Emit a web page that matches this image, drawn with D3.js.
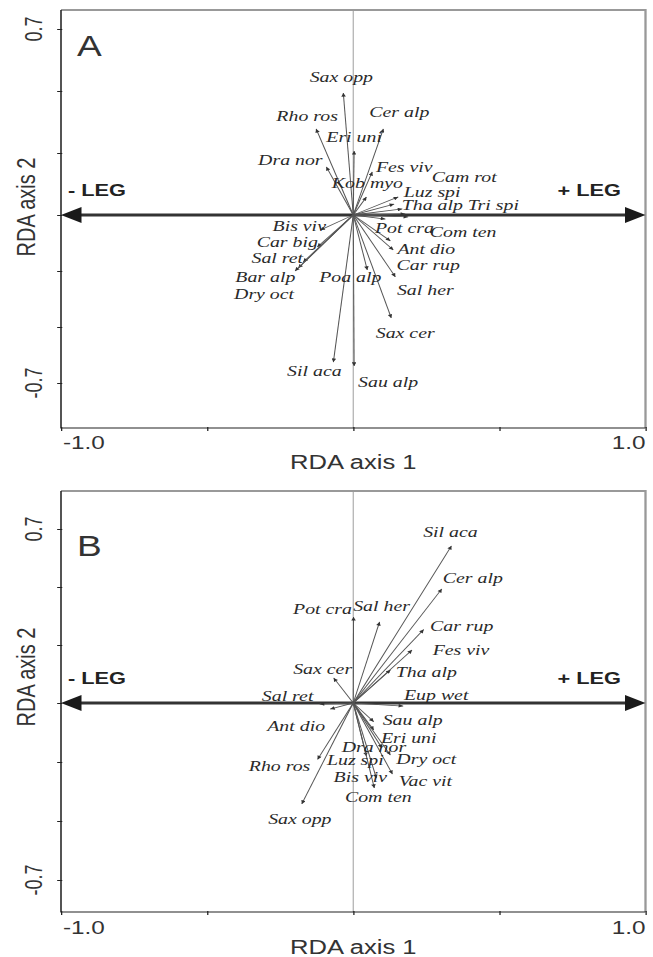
<!DOCTYPE html>
<html>
<head>
<meta charset="utf-8">
<script src="https://cdn.jsdelivr.net/npm/d3@7"></script>
<style>
  html, body { margin: 0; padding: 0; background: #fff; }
  .sans { font-family: "Liberation Sans", Arial, sans-serif; fill: #333; }
  .sp-label { font-family: "Liberation Serif", "Times New Roman", serif; font-style: italic; font-size: 15.5px; fill: #2a2a2a; }
</style>
</head>
<body>
<div id="chart"></div>
<script>
// Panel A species scores
const speciesA = ["Sax opp", "Rho ros", "Eri uni", "Cer alp", "Dra nor", "Fes viv", "Kob myo", "Cam rot", "Luz spi", "Tha alp", "Tri spi", "Com ten", "Pot cra", "Ant dio", "Car rup", "Sal her", "Sax cer", "Poa alp", "Sil aca", "Sau alp", "Bis viv", "Car big", "Sal ret", "Bar alp", "Dry oct"];
const axis1A = [-0.034, -0.127, 0.003, 0.103, -0.092, 0.065, 0.045, 0.154, 0.140, 0.168, 0.178, 0.188, 0.110, 0.127, 0.137, 0.144, 0.130, 0.048, -0.068, 0.003, -0.113, -0.123, -0.171, -0.188, -0.199];
const axis2A = [0.459, 0.324, 0.241, 0.324, 0.181, 0.162, 0.068, 0.068, 0.041, 0.023, 0.004, -0.008, -0.017, -0.108, -0.146, -0.258, -0.429, -0.229, -0.613, -0.629, -0.063, -0.133, -0.196, -0.221, -0.233];

// Panel B species scores
const speciesB = ["Sil aca", "Cer alp", "Pot cra", "Sal her", "Car rup", "Fes viv", "Tha alp", "Sax cer", "Eup wet", "Sal ret", "Ant dio", "Sau alp", "Eri uni", "Dra nor", "Dry oct", "Vac vit", "Luz spi", "Bis viv", "Com ten", "Rho ros", "Sax opp"];
const axis1B = [0.336, 0.303, 0.001, 0.090, 0.241, 0.201, 0.127, -0.067, 0.171, -0.115, -0.079, 0.070, 0.070, 0.098, 0.127, 0.134, 0.045, 0.079, 0.072, -0.122, -0.176];
const axis2B = [0.632, 0.459, 0.346, 0.326, 0.296, 0.213, 0.133, 0.101, -0.012, -0.004, -0.024, -0.074, -0.107, -0.178, -0.206, -0.281, -0.210, -0.297, -0.336, -0.223, -0.399];

// Ticks
const xTicks = [-1, -0.5, 0, 0.5, 1];
const yTicks = [-0.7, -0.7 * 2 / 3, -0.7 / 3, 0, 0.7 / 3, 0.7 * 2 / 3, 0.7];
const xTickLabels = [[-1, "-1.0"], [1, "1.0"]];
const yTickLabels = [[0.7, "0.7"], [-0.7, "-0.7"]];
const legLabels = ["- LEG", "+ LEG"];
const xTitle = "RDA axis 1";
const yTitle = "RDA axis 2";

// Label nudges from arrow tip (picture px)
const nudgeA = {
  "Sax opp": [-2, -11], "Rho ros": [-9, -8], "Eri uni": [0, -9], "Cer alp": [16, -12],
  "Dra nor": [-36, -2], "Fes viv": [32, 0], "Kob myo": [1, -9], "Cam rot": [66, -15],
  "Luz spi": [38, -7], "Tha alp": [30, 1], "Tri spi": [88, -4], "Com ten": [55, 20],
  "Pot cra": [19, 14], "Ant dio": [36, 13], "Car rup": [35, 20], "Sal her": [30, 18],
  "Sax cer": [14, 20], "Poa alp": [-17, 12], "Sil aca": [-19, 14], "Sau alp": [34, 21],
  "Bis viv": [-21, 1], "Car big": [-30, 0], "Sal ret": [-26, 1], "Bar alp": [-33, 14],
  "Dry oct": [-31, 28]
};
const nudgeB = {
  "Sil aca": [-1, -9], "Cer alp": [31, -6], "Pot cra": [-31, -3], "Sal her": [2, -11],
  "Car rup": [38, 2], "Fes viv": [49, 5], "Tha alp": [36, 7], "Sax cer": [-11, -4],
  "Eup wet": [33, -6], "Sal ret": [-32, -3], "Ant dio": [-34, 22], "Sau alp": [39, 3],
  "Eri uni": [35, 13], "Dra nor": [-8, 4], "Dry oct": [36, 9], "Vac vit": [33, 12],
  "Luz spi": [-11, 9], "Bis viv": [-16, 4], "Com ten": [4, 14], "Rho ros": [-38, 12],
  "Sax opp": [-2, 20]
};

// The figure is drawn narrow and stretched sideways
const SX = 1.28;
const width = 653 / SX;
const height = 957;
const px = x => x / SX;

const panels = [
  { id: "A", names: speciesA, ax1: axis1A, ax2: axis2A, nudge: nudgeA,
    top: 10, bottom: 428, yRange: [383, 215, 29], tickBase: 449, titleBase: 469, yTitleMid: 207 },
  { id: "B", names: speciesB, ax1: axis1B, ax2: axis2B, nudge: nudgeB,
    top: 491, bottom: 912, yRange: [880, 703, 529], tickBase: 934, titleBase: 954, yTitleMid: 677 }
];

/*******************************/
/*    Append the containers    */
/*******************************/
const svg = d3.select("#chart")
  .append("svg")
    .attr("width", 653)
    .attr("height", height)
    .attr("viewBox", `0 0 ${width} ${height}`)
    .attr("preserveAspectRatio", "none");

svg.append("defs")
  .append("marker")
    .attr("id", "tip")
    .attr("viewBox", "0 0 6 6")
    .attr("refX", 6)
    .attr("refY", 3)
    .attr("markerWidth", 4.5)
    .attr("markerHeight", 3.6)
    .attr("markerUnits", "userSpaceOnUse")
    .attr("orient", "auto")
  .append("path")
    .attr("d", "M0,0L6,3L0,6Z")
    .attr("fill", "#333");

const drawPanel = (p) => {
  const g = svg.append("g").attr("class", `panel-${p.id}`);

  /****************************/
  /*    Declare the scales    */
  /****************************/
  const xScale = d3.scaleLinear()
    .domain([-1, 1])
    .range([px(61), px(645.5)]);
  const yScale = d3.scaleLinear()
    .domain([-0.7, 0, 0.7])
    .range(p.yRange);
  const left = xScale(-1);
  const right = xScale(1);
  const y0 = yScale(0);

  // Zero line of axis 1
  g.append("line")
    .attr("x1", xScale(0)).attr("x2", xScale(0))
    .attr("y1", p.top).attr("y2", p.bottom)
    .attr("stroke", "#aaa")
    .attr("stroke-width", 0.9);

  // Frame, top and right
  g.append("path")
    .attr("d", `M${left},${p.top}H${right}V${p.bottom}`)
    .attr("fill", "none")
    .attr("stroke", "#999")
    .attr("stroke-width", 1.8);

  /***************************/
  /*     Append the axes     */
  /***************************/
  const leftAxis = d3.axisLeft(yScale)
    .tickValues(yTicks)
    .tickSize(3)
    .tickSizeOuter(0)
    .tickFormat("");
  const ya = g.append("g")
    .attr("transform", `translate(${left}, 0)`)
    .call(leftAxis);
  ya.select(".domain").remove();
  ya.selectAll(".tick line").attr("x1", 1).attr("stroke", "#222");

  const bottomAxis = d3.axisBottom(xScale)
    .tickValues(xTicks)
    .tickSize(3)
    .tickSizeOuter(0)
    .tickFormat("");
  const xa = g.append("g")
    .attr("transform", `translate(0, ${p.bottom})`)
    .call(bottomAxis);
  xa.select(".domain").remove();
  xa.selectAll(".tick line").attr("y1", -1).attr("stroke", "#222");

  g.append("path")
    .attr("d", `M${left},${p.top}V${p.bottom}H${right}`)
    .attr("fill", "none")
    .attr("stroke", "#222")
    .attr("stroke-width", 1.2);

  // Tick labels
  g.selectAll(".ylab")
    .data(yTickLabels)
    .join("text")
      .attr("class", "sans")
      .attr("transform", d => `translate(${px(42)}, ${yScale(d[0])}) rotate(-90)`)
      .attr("text-anchor", "middle")
      .style("font-size", "18px")
      .text(d => d[1]);

  g.selectAll(".xlab")
    .data(xTickLabels)
    .join("text")
      .attr("class", "sans")
      .attr("x", d => d[0] < 0 ? xScale(d[0]) + px(2) : xScale(d[0]))
      .attr("y", p.tickBase)
      .attr("text-anchor", d => d[0] < 0 ? "start" : "end")
      .style("font-size", "19px")
      .text(d => d[1]);

  // Axis titles
  g.append("text")
    .attr("class", "sans")
    .attr("x", xScale(0))
    .attr("y", p.titleBase)
    .attr("text-anchor", "middle")
    .style("font-size", "20px")
    .text(xTitle);
  g.append("text")
    .attr("class", "sans")
    .attr("transform", `translate(${px(35)}, ${p.yTitleMid}) rotate(-90)`)
    .attr("text-anchor", "middle")
    .style("font-size", "20px")
    .text(yTitle);

  // Panel letter
  g.append("text")
    .attr("class", "sans")
    .attr("x", px(77))
    .attr("y", yScale(0.7) + 27)
    .style("font-size", "29px")
    .text(p.id);

  /*****************************/
  /*       LEG gradient        */
  /*****************************/
  const head = 16;
  g.append("line")
    .attr("x1", left + head - 2).attr("x2", right - head + 2)
    .attr("y1", y0).attr("y2", y0)
    .attr("stroke", "#333")
    .attr("stroke-width", 3);
  g.selectAll(".leg-head")
    .data([-1, 1])
    .join("path")
      .attr("d", d => {
        const xt = xScale(d);
        const xb = xt - d * head;
        return `M${xt},${y0}L${xb},${y0 - 8}L${xb},${y0 + 8}Z`;
      })
      .attr("fill", "#1a1a1a");
  g.selectAll(".leg-label")
    .data(legLabels)
    .join("text")
      .attr("class", "sans")
      .attr("x", (d, i) => i === 0 ? px(68) : px(621))
      .attr("y", y0 - 19)
      .attr("text-anchor", (d, i) => i === 0 ? "start" : "end")
      .style("font-size", "17px")
      .style("font-weight", "bold")
      .style("fill", "#222")
      .text(d => d);

  /*****************************/
  /*      Species arrows       */
  /*****************************/
  const rows = p.names.map((name, i) => ({ name, x: p.ax1[i], y: p.ax2[i] }));

  g.selectAll(".sp-arrow")
    .data(rows)
    .join("line")
      .attr("class", "sp-arrow")
      .attr("x1", xScale(0))
      .attr("y1", y0)
      .attr("x2", d => xScale(d.x))
      .attr("y2", d => yScale(d.y))
      .attr("stroke", "#555")
      .attr("stroke-width", 0.8)
      .attr("marker-end", "url(#tip)");

  g.selectAll(".sp-label")
    .data(rows)
    .join("text")
      .attr("class", "sp-label")
      .attr("x", d => xScale(d.x) + px(p.nudge[d.name][0]))
      .attr("y", d => yScale(d.y) + p.nudge[d.name][1])
      .attr("text-anchor", "middle")
      .text(d => d.name);
};

panels.forEach(drawPanel);
</script>
</body>
</html>
